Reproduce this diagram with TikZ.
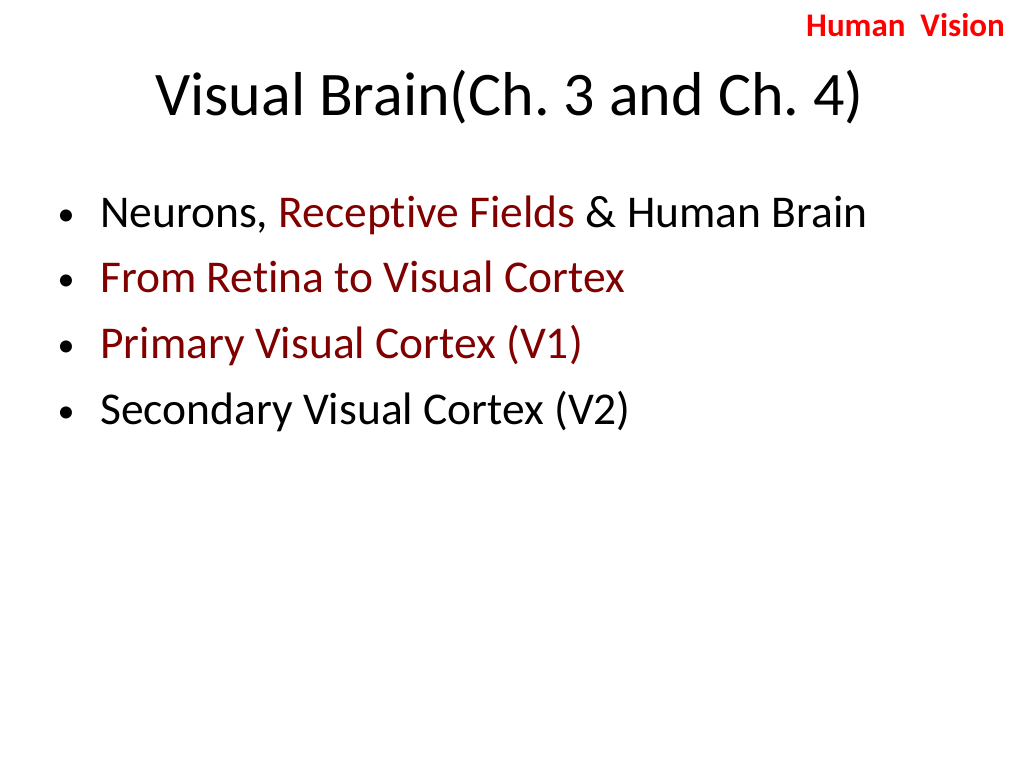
\documentclass[tikz,border=0pt]{standalone}
\usepackage{fontspec}
\setmainfont[RawFeature=-liga]{Carlito}
\definecolor{darkred}{RGB}{128,0,0}
\frenchspacing
\tikzset{
	bullet/.style={anchor=base west, inner sep=0pt, font=\fontsize{45.5}{52}\selectfont},
	dot/.style={anchor=base, inner sep=0pt, font=\fontsize{34}{40}\selectfont}
}
\begin{document}
\begin{tikzpicture}[x=1pt, y=-1pt]
	\useasboundingbox (0, 0) rectangle (1024, 768);
	\draw 
	(1005, 37) node [anchor=base east, inner sep=0pt, text=red, font=\fontsize{33}{38}\selectfont\bfseries] (tag) {Human\ \ Vision}
	(155, 115) node [anchor=base west, inner sep=0pt, font=\fontsize{62}{72}\selectfont] (title) {Visual Brain(Ch. 3 and Ch. 4)};

	\draw 
	(66, 225) node [dot] (d1) {•}
	(100, 227) node [bullet] (b1) {Neurons, \textcolor{darkred}{Receptive Fields} \& Human Brain}
	(66, 290) node [dot] (d2) {•}
	(100, 292) node [bullet, text=darkred] (b2) {From Retina to Visual Cortex}
	(66, 356) node [dot] (d3) {•}
	(100, 358) node [bullet, text=darkred] (b3) {Primary Visual Cortex (V1)}
	(66, 422) node [dot] (d4) {•}
	(100, 424) node [bullet] (b4) {Secondary Visual Cortex (V2)};
\end{tikzpicture}
\end{document}
